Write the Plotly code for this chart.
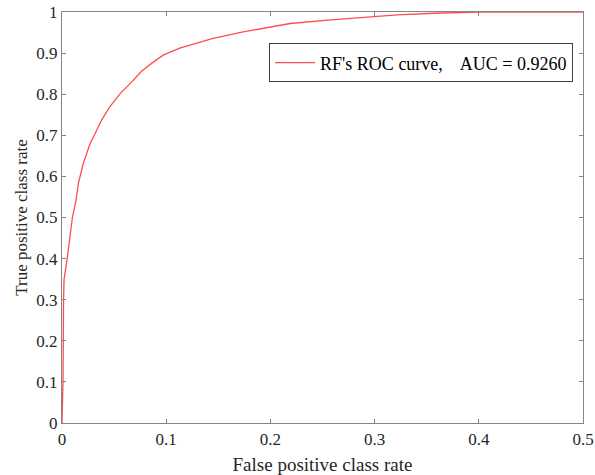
import plotly.graph_objects as go

fpr = [0, 0.001, 0.0015, 0.002, 0.005, 0.007, 0.010, 0.0135, 0.0157, 0.0205,
       0.027, 0.031, 0.038, 0.046, 0.056, 0.067, 0.076, 0.086, 0.097, 0.113,
       0.128, 0.145, 0.175, 0.2, 0.219, 0.258, 0.299, 0.322, 0.357, 0.40, 0.5]
tpr = [0, 0.105, 0.30, 0.35, 0.40, 0.44, 0.50, 0.543, 0.583, 0.632,
       0.680, 0.70, 0.737, 0.770, 0.802, 0.830, 0.855, 0.875, 0.895, 0.912,
       0.924, 0.936, 0.952, 0.964, 0.972, 0.981, 0.988, 0.993, 0.997, 1.0, 1.0]

x_ticks = [0, 0.1, 0.2, 0.3, 0.4, 0.5]
x_labels = ["0", "0.1", "0.2", "0.3", "0.4", "0.5"]
y_ticks = [0, 0.1, 0.2, 0.3, 0.4, 0.5, 0.6, 0.7, 0.8, 0.9, 1]
y_labels = ["0", "0.1", "0.2", "0.3", "0.4", "0.5", "0.6", "0.7", "0.8", "0.9", "1"]

series_name = "RF's ROC curve,    AUC = 0.9260"

font = "Liberation Serif, Times New Roman, serif"
axis_col = "#858585"
text_col = "#262626"

fig = go.Figure()
fig.add_trace(go.Scatter(x=fpr, y=tpr, mode="lines", name=series_name,
                         line=dict(color="#ff4d4d", width=1.3)))

axis_common = dict(showline=True, linecolor=axis_col, linewidth=1.3, mirror="ticks",
                   ticks="inside", ticklen=4, tickcolor=axis_col, tickwidth=1,
                   showgrid=False, zeroline=False, automargin=False,
                   tickfont=dict(family=font, size=17, color=text_col))

fig.update_xaxes(range=[0, 0.5], tickvals=x_ticks, ticktext=x_labels,
                 title=dict(text="False positive class rate",
                            font=dict(family=font, size=19, color=text_col)),
                 **axis_common)
fig.update_yaxes(range=[0, 1], tickvals=y_ticks, ticktext=y_labels,
                 title=dict(text="True positive class rate", standoff=4,
                            font=dict(family=font, size=17, color=text_col)),
                 **axis_common)

fig.update_layout(
    width=595, height=475,
    margin=dict(l=62, r=12, t=12, b=52),
    plot_bgcolor="white", paper_bgcolor="white",
    showlegend=True,
    legend=dict(x=0.981, y=0.876, xanchor="right", yanchor="middle",
                bordercolor="#404040", borderwidth=1, bgcolor="white",
                font=dict(family=font, size=18, color="#000000"),
                itemwidth=40, tracegroupgap=0),
    font=dict(family=font),
)

fig.write_html("out.html", config={"displayModeBar": False},
               post_script="document.body.style.margin='0';document.body.style.padding='0';")
